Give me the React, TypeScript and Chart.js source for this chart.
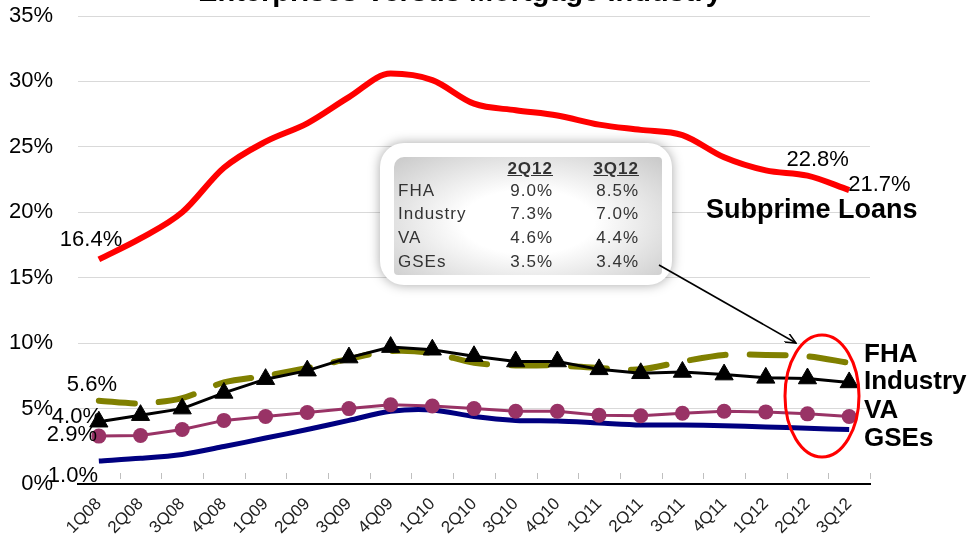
import React, { useEffect, useRef } from "react";
import { Chart, registerables } from "chart.js";

Chart.register(...registerables);

const chartTitle = "Enterprises Versus Mortgage Industry";
const quarters = [
  "1Q08", "2Q08", "3Q08", "4Q08",
  "1Q09", "2Q09", "3Q09", "4Q09",
  "1Q10", "2Q10", "3Q10", "4Q10",
  "1Q11", "2Q11", "3Q11", "4Q11",
  "1Q12", "2Q12", "3Q12",
];
const subprime = [16.4, 18.0, 20.0, 23.4, 25.4, 26.8, 28.8, 30.6, 30.1, 28.3, 27.8, 27.4, 26.7, 26.3, 25.9, 24.2, 23.2, 22.8, 21.7];
const fha = [5.6, 5.4, 5.8, 7.0, 7.5, 8.1, 8.8, 9.4, 9.25, 8.5, 8.3, 8.3, 8.1, 8.0, 8.6, 9.1, 9.1, 9.0, 8.5];
const industry = [4.0, 4.5, 5.0, 6.2, 7.25, 7.9, 8.9, 9.7, 9.5, 9.0, 8.6, 8.6, 8.0, 7.7, 7.8, 7.6, 7.35, 7.3, 7.0];
const va = [2.9, 2.95, 3.4, 4.1, 4.4, 4.7, 5.0, 5.3, 5.2, 5.0, 4.8, 4.8, 4.5, 4.45, 4.65, 4.8, 4.75, 4.6, 4.4];
const gses = [1.0, 1.2, 1.5, 2.1, 2.75, 3.4, 4.1, 4.8, 4.9, 4.4, 4.1, 4.05, 3.9, 3.75, 3.75, 3.7, 3.6, 3.5, 3.4];
const yTickValues = [0, 5, 10, 15, 20, 25, 30, 35];
const yMin = -0.76;
const yMax = 35;

const seriesNames = ["FHA", "Industry", "VA", "GSEs"];
const tableCols = ["2Q12", "3Q12"];
const tableRows = [
  ["FHA", "9.0%", "8.5%"],
  ["Industry", "7.3%", "7.0%"],
  ["VA", "4.6%", "4.4%"],
  ["GSEs", "3.5%", "3.4%"],
];

const FONT = '"Liberation Sans", Arial, Helvetica, sans-serif';
const pct = (v: number) => `${v.toFixed(1)}%`;

const annotPlugin = {
  id: "annot",
  afterDraw(chart: any) {
    const { ctx, chartArea, scales } = chart;
    const x = scales.x;
    ctx.save();
    // small tick marks above the axis line at category boundaries
    const step = x.getPixelForValue(1) - x.getPixelForValue(0);
    ctx.strokeStyle = "#BFBFBF";
    ctx.lineWidth = 1;
    for (let i = 1; i <= quarters.length; i++) {
      const px = Math.round(x.getPixelForValue(i) - step / 2) + 0.5;
      ctx.beginPath();
      ctx.moveTo(px, chartArea.bottom - 11);
      ctx.lineTo(px, chartArea.bottom - 5);
      ctx.stroke();
    }

    // title (mostly cut off at the top)
    ctx.fillStyle = "#000";
    ctx.textBaseline = "alphabetic";
    ctx.textAlign = "center";
    ctx.font = `bold 29px ${FONT}`;
    ctx.fillText(chartTitle, 460, 0.5);

    // data labels
    ctx.textAlign = "left";
    ctx.font = `22px ${FONT}`;
    const pt = (ds: number, i: number) => chart.getDatasetMeta(ds).data[i];
    const label = (ds: number, i: number, values: number[], dx: number, dy: number) => {
      const p = pt(ds, i);
      ctx.fillText(pct(values[i]), p.x + dx, p.y + dy);
    };
    const last = quarters.length - 1;
    // dataset indexes: 0 industry, 1 va, 2 fha, 3 gses, 4 subprime
    label(4, 0, subprime, -39, -13);
    label(4, last - 1, subprime, -21, -10);
    label(4, last, subprime, -1, 1);
    label(2, 0, fha, -32, -10);
    label(0, 0, industry, -47, 1);
    label(1, 0, va, -52, 5);
    label(3, 0, gses, -51, 21);

    // series names
    ctx.font = `bold 27px ${FONT}`;
    ctx.fillText("Subprime Loans", 706, 218);
    ctx.font = `bold 26px ${FONT}`;
    const baselines = [362, 389, 418, 446];
    seriesNames.forEach((n, i) => ctx.fillText(n, 864, baselines[i]));
    ctx.restore();
  },
};

export default function App() {
  const canvasRef = useRef<HTMLCanvasElement | null>(null);

  useEffect(() => {
    if (!canvasRef.current) return;
    const chart = new Chart(canvasRef.current, {
      type: "line",
      data: {
        labels: quarters,
        datasets: [
          {
            label: "Industry",
            data: industry,
            borderColor: "#000000",
            backgroundColor: "#000000",
            borderWidth: 3,
            pointStyle: "triangle",
            pointRadius: 10.5,
            pointBorderWidth: 1,
            tension: 0,
          },
          {
            label: "VA",
            data: va,
            borderColor: "#993366",
            backgroundColor: "#993366",
            borderWidth: 3,
            pointStyle: "circle",
            pointRadius: 7.5,
            pointBorderWidth: 0,
            tension: 0,
          },
          {
            label: "FHA",
            data: fha,
            borderColor: "#808000",
            borderWidth: 6,
            borderDash: [36, 24],
            borderCapStyle: "round",
            pointRadius: 0,
            tension: 0.3,
          },
          {
            label: "GSEs",
            data: gses,
            borderColor: "#000080",
            borderWidth: 5,
            pointRadius: 0,
            tension: 0.3,
          },
          {
            label: "Subprime Loans",
            data: subprime,
            borderColor: "#FF0000",
            borderWidth: 6,
            pointRadius: 0,
            cubicInterpolationMode: "monotone",
          },
        ],
      },
      options: {
        responsive: false,
        animation: false,
        events: [],
        layout: { padding: { left: 0, top: 16, right: 100, bottom: 0 } },
        plugins: {
          legend: { display: false },
          tooltip: { enabled: false },
          title: { display: false },
        },
        scales: {
          x: {
            type: "category",
            offset: true,
            grid: { display: false },
            border: { display: true, color: "#000000", width: 2 },
            ticks: {
              autoSkip: false,
              maxRotation: 45,
              minRotation: 45,
              padding: 2,
              color: "#222222",
              font: { family: FONT, size: 17 },
            },
            afterFit: (s: any) => {
              s.height = 51;
              s.paddingLeft = 0;
              s.paddingRight = 0;
            },
          },
          y: {
            min: yMin,
            max: yMax,
            afterBuildTicks: (s: any) => {
              s.ticks = yTickValues.map((v) => ({ value: v === 0 ? yMin : v }));
            },
            grid: { color: "#D9D9D9", drawTicks: false, lineWidth: 1 },
            border: { display: false },
            ticks: {
              padding: 25,
              color: "#000000",
              font: { family: FONT, size: 22 },
              callback: (v: any) => (Number(v) <= 0 ? "0%" : `${Number(v)}%`),
            },
            afterFit: (s: any) => {
              s.width = 78;
              s.paddingTop = 0;
              s.paddingBottom = 0;
            },
          },
        },
      },
      plugins: [annotPlugin],
    } as any);
    return () => chart.destroy();
  }, []);

  const txt: React.CSSProperties = {
    position: "absolute",
    fontFamily: FONT,
    fontSize: 17,
    letterSpacing: 1,
    lineHeight: "17px",
    color: "#333",
    whiteSpace: "nowrap",
  };
  const headerBase = 174;
  const rowBase = [196, 219, 243, 267];
  const colRight = [553, 639];

  return (
    <div style={{ position: "absolute", left: 0, top: 0, width: 970, height: 535, background: "#fff", overflow: "hidden" }}>
      <canvas ref={canvasRef} width={970} height={535} style={{ position: "absolute", left: 0, top: 0, width: 970, height: 535 }} />
      {/* inset table */}
      <div
        style={{
          position: "absolute",
          left: 380,
          top: 143,
          width: 292,
          height: 142,
          background: "#fff",
          borderRadius: 24,
          boxShadow: "0 0 12px rgba(0,0,0,0.35)",
        }}
      />
      <div
        style={{
          position: "absolute",
          left: 394,
          top: 157,
          width: 268,
          height: 118,
          borderRadius: "10px 4px 4px 4px",
          background: "radial-gradient(ellipse at 50% 55%, rgba(255,255,255,0.92) 35%, rgba(196,196,196,0.92) 100%)",
        }}
      />
      {tableCols.map((c, i) => (
        <div
          key={c}
          style={{ ...txt, fontWeight: "bold", textDecoration: "underline", left: colRight[i] - 80, width: 80, textAlign: "right", top: headerBase - 14 }}
        >
          {c}
        </div>
      ))}
      {tableRows.map((r, ri) => (
        <React.Fragment key={r[0]}>
          <div style={{ ...txt, left: 398, top: rowBase[ri] - 14 }}>{r[0]}</div>
          <div style={{ ...txt, left: colRight[0] - 80, width: 80, textAlign: "right", top: rowBase[ri] - 14 }}>{r[1]}</div>
          <div style={{ ...txt, left: colRight[1] - 80, width: 80, textAlign: "right", top: rowBase[ri] - 14 }}>{r[2]}</div>
        </React.Fragment>
      ))}
      <svg width={970} height={535} style={{ position: "absolute", left: 0, top: 0, pointerEvents: "none" }}>
        <defs>
          <marker id="arr" markerWidth="12" markerHeight="10" refX="11" refY="5" orient="auto" markerUnits="userSpaceOnUse">
            <path d="M0,0 L11,5 L0,10" fill="none" stroke="#000" strokeWidth="1.5" />
          </marker>
        </defs>
        <line x1={659} y1={265} x2={796} y2={343} stroke="#000" strokeWidth={1.6} markerEnd="url(#arr)" />
        <ellipse cx={822} cy={396} rx={37} ry={61} fill="none" stroke="#FF0000" strokeWidth={3} />
      </svg>
    </div>
  );
}
